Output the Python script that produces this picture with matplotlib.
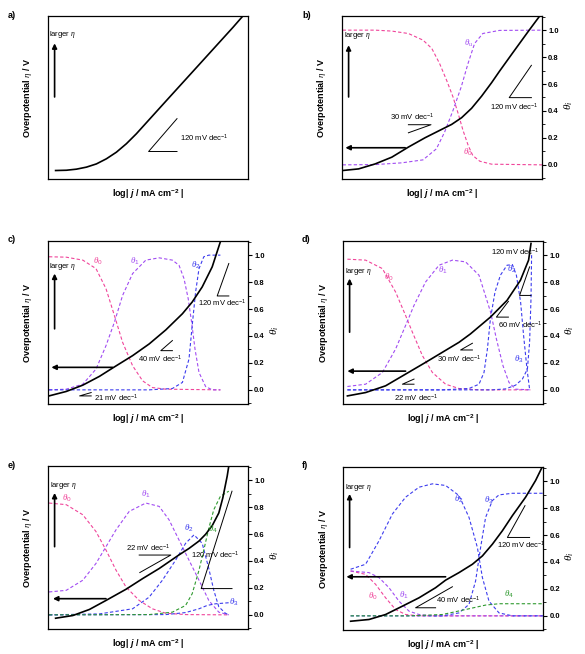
import matplotlib.pyplot as plt
from matplotlib.ticker import MultipleLocator, FormatStrFormatter

plt.rcParams['font.family'] = ['Liberation Sans', 'DejaVu Sans']
plt.rcParams['mathtext.fontset'] = 'custom'
plt.rcParams['mathtext.rm'] = 'Liberation Sans'
plt.rcParams['mathtext.it'] = 'Liberation Serif:italic'
plt.rcParams['mathtext.bf'] = 'Liberation Sans:bold'
if 'mathtext.bfit' in plt.rcParams:
    plt.rcParams['mathtext.bfit'] = 'Liberation Sans:bold:italic'

PINK = '#f0459a'
PURPLE = '#a14cf2'
BLUE = '#3c3cee'
GREEN = '#2f9a2f'

# panel a: Tafel curve only
a_x = [0.38, 0.92, 1.42, 1.92, 2.42, 2.92, 3.42, 3.92, 4.42, 5.92, 7.58, 9.25, 9.75]
a_eta = [-0.042, -0.040, -0.032, -0.017, 0.007, 0.045, 0.094, 0.157, 0.231, 0.477, 0.748, 1.021, 1.106]

# panel b
b_x = [0.03, 0.83, 1.66, 2.49, 3.32, 4.15, 4.98, 5.48, 5.98, 6.48, 6.98, 7.48, 7.87, 8.47, 9.30, 9.88]
b_eta = [-0.042, -0.030, 0.007, 0.057, 0.132, 0.201, 0.263, 0.300, 0.350, 0.420, 0.510, 0.610, 0.694, 0.818, 0.988, 1.104]
b_th0_x = [0.03, 1.66, 2.49, 3.32, 4.05, 4.49, 4.88, 5.23, 5.55, 5.81, 6.05, 6.31, 6.54, 6.89, 7.48, 10.0]
b_th0 = [1.0, 1.0, 0.993, 0.975, 0.926, 0.864, 0.752, 0.628, 0.504, 0.380, 0.256, 0.144, 0.069, 0.027, 0.005, 0.0]
b_thu_x = [0.03, 1.66, 2.99, 4.05, 4.72, 5.13, 5.55, 5.96, 6.30, 6.63, 7.04, 7.87, 10.0]
b_thu = [0.0, 0.002, 0.015, 0.037, 0.119, 0.243, 0.404, 0.578, 0.752, 0.901, 0.975, 0.998, 1.0]

# panel c
c_x = [0.05, 0.91, 1.74, 2.57, 3.23, 4.23, 5.06, 5.89, 6.72, 7.21, 7.71, 8.21, 8.62]
c_eta = [-0.045, -0.012, 0.035, 0.100, 0.162, 0.254, 0.341, 0.445, 0.565, 0.652, 0.764, 0.913, 1.10]
c_th0_x = [0.05, 0.91, 1.74, 2.40, 2.90, 3.32, 3.73, 4.23, 4.73, 5.22, 5.89, 8.62]
c_th0 = [0.988, 0.985, 0.963, 0.900, 0.751, 0.552, 0.353, 0.179, 0.067, 0.017, 0.005, 0.0]
c_th1_x = [0.05, 0.91, 1.74, 2.40, 2.90, 3.32, 3.73, 4.23, 4.89, 5.56, 6.22, 6.55, 6.80, 7.01, 7.18, 7.35, 7.55, 7.88, 8.21, 8.62]
c_th1 = [0.0, 0.005, 0.042, 0.154, 0.328, 0.502, 0.701, 0.863, 0.963, 0.980, 0.963, 0.925, 0.826, 0.677, 0.502, 0.303, 0.129, 0.025, 0.0, 0.0]
c_th2_x = [0.05, 5.06, 6.22, 6.72, 7.05, 7.21, 7.38, 7.55, 7.79, 8.04, 8.62]
c_th2 = [0.0, 0.0, 0.010, 0.055, 0.229, 0.478, 0.726, 0.900, 0.988, 1.0, 1.0]

# panel d
d_x = [0.22, 1.13, 2.13, 3.13, 4.13, 4.97, 5.80, 6.37, 7.37, 8.20, 8.87, 9.28, 9.40]
d_eta = [-0.045, -0.020, 0.030, 0.117, 0.204, 0.279, 0.353, 0.415, 0.540, 0.664, 0.813, 0.963, 1.087]
d_th0_x = [0.22, 1.13, 1.97, 2.63, 3.13, 3.47, 3.97, 4.47, 5.13, 5.80, 6.80, 9.38]
d_th0 = [0.970, 0.963, 0.900, 0.726, 0.552, 0.428, 0.254, 0.129, 0.042, 0.010, 0.0, 0.0]
d_th1_x = [0.22, 1.13, 1.97, 2.63, 3.13, 3.55, 4.13, 4.80, 5.47, 6.13, 6.80, 7.38, 7.67, 8.00, 8.30, 8.63, 9.38]
d_th1 = [0.025, 0.042, 0.129, 0.303, 0.478, 0.627, 0.801, 0.925, 0.963, 0.950, 0.851, 0.577, 0.378, 0.179, 0.055, 0.005, 0.0]
d_th2_x = [0.22, 4.97, 6.30, 6.80, 7.05, 7.22, 7.37, 7.60, 7.87, 8.20, 8.47, 8.67, 8.88, 9.03, 9.20, 9.33, 9.38]
d_th2 = [0.0, 0.0, 0.010, 0.042, 0.129, 0.303, 0.527, 0.726, 0.851, 0.925, 0.930, 0.851, 0.652, 0.403, 0.154, 0.005, 0.0]
d_th3_x = [0.22, 7.47, 8.13, 8.63, 8.97, 9.22, 9.33, 9.40, 9.43]
d_th3 = [0.0, 0.0, 0.007, 0.035, 0.080, 0.154, 0.353, 0.677, 1.0]

# panel e
e_x = [0.38, 1.24, 2.07, 2.90, 3.90, 4.73, 5.56, 6.55, 7.05, 7.55, 7.88, 8.21, 8.54, 8.74, 8.96, 9.04]
e_eta = [-0.025, -0.005, 0.040, 0.107, 0.190, 0.269, 0.344, 0.445, 0.493, 0.548, 0.598, 0.662, 0.756, 0.868, 1.030, 1.105]
e_th0_x = [0.05, 0.91, 1.74, 2.40, 2.90, 3.40, 3.90, 4.56, 5.22, 5.89, 6.88, 9.04]
e_th0 = [0.830, 0.818, 0.743, 0.618, 0.481, 0.332, 0.207, 0.107, 0.045, 0.012, 0.002, 0.0]
e_th1_x = [0.05, 0.91, 1.74, 2.40, 2.90, 3.40, 4.06, 4.89, 5.56, 6.05, 6.55, 7.05, 7.55, 8.04, 8.54, 9.04]
e_th1 = [0.170, 0.182, 0.257, 0.382, 0.506, 0.631, 0.768, 0.830, 0.805, 0.706, 0.556, 0.406, 0.257, 0.107, 0.020, 0.0]
e_th2_x = [0.05, 2.57, 4.23, 5.06, 5.72, 6.38, 6.88, 7.30, 7.71, 8.04, 8.29, 8.54, 8.87, 9.04]
e_th2 = [0.0, 0.007, 0.045, 0.132, 0.257, 0.406, 0.531, 0.594, 0.531, 0.344, 0.182, 0.060, 0.012, 0.0]
e_th3_x = [0.05, 5.89, 6.88, 7.55, 7.96, 8.37, 9.04]
e_th3 = [0.0, 0.002, 0.017, 0.045, 0.070, 0.082, 0.090]
e_th4_x = [0.05, 5.06, 6.22, 6.88, 7.21, 7.55, 7.79, 8.04, 8.29, 8.62, 9.04]
e_th4 = [0.0, 0.002, 0.020, 0.070, 0.157, 0.332, 0.481, 0.643, 0.781, 0.880, 0.918]

# panel f
f_x = [0.38, 1.30, 2.13, 2.97, 3.80, 4.63, 5.13, 5.80, 6.47, 6.97, 7.47, 7.97, 8.47, 9.13, 9.63, 10.0]
f_eta = [-0.040, -0.027, 0.010, 0.072, 0.134, 0.209, 0.265, 0.321, 0.383, 0.445, 0.532, 0.632, 0.744, 0.881, 1.005, 1.117]
f_th0_x = [0.38, 1.13, 1.63, 2.13, 2.63, 3.13, 3.80, 10.0]
f_th0 = [0.333, 0.308, 0.234, 0.134, 0.047, 0.010, 0.0, 0.0]
f_th1_x = [0.38, 1.30, 1.80, 2.30, 2.80, 3.30, 3.80, 4.47, 10.0]
f_th1 = [0.333, 0.321, 0.284, 0.209, 0.109, 0.035, 0.010, 0.0, 0.0]
f_th2_x = [0.38, 1.13, 1.80, 2.47, 3.13, 3.80, 4.47, 5.13, 5.80, 6.30, 6.72, 6.97, 7.30, 7.80, 8.47, 10.0]
f_th2 = [0.346, 0.383, 0.557, 0.756, 0.881, 0.955, 0.980, 0.968, 0.893, 0.731, 0.507, 0.284, 0.109, 0.022, 0.0, 0.0]
f_th3_x = [0.38, 4.97, 5.80, 6.30, 6.63, 6.88, 7.13, 7.47, 7.80, 8.47, 10.0]
f_th3 = [0.0, 0.0, 0.022, 0.085, 0.259, 0.507, 0.731, 0.856, 0.898, 0.910, 0.910]
f_th4_x = [0.38, 3.30, 4.97, 6.13, 7.13, 7.80, 10.0]
f_th4 = [0.0, 0.0, 0.010, 0.047, 0.080, 0.090, 0.090]

# slope triangles: (x path, y path, label)
a_tri = [([6.45, 5.03, 6.45], [0.099, 0.099, 0.343], '120')]
b_tri = [([3.32, 4.45, 3.32], [0.298, 0.298, 0.238], '30'),
         ([9.47, 8.36, 9.47], [0.499, 0.499, 0.739], '120')]
c_tri = [([2.16, 1.58, 2.16], [-0.045, -0.045, -0.020], '21'),
         ([6.22, 5.64, 6.22], [0.291, 0.291, 0.366], '40'),
         ([9.04, 8.46, 9.04], [0.697, 0.697, 0.938], '120')]
d_tri = [([3.55, 2.97, 3.55], [0.042, 0.042, 0.080], '22'),
         ([6.47, 5.88, 6.47], [0.296, 0.296, 0.346], '30'),
         ([8.27, 7.67, 8.27], [0.540, 0.540, 0.657], '60'),
         ([9.40, 8.83, 9.33], [0.701, 0.701, 0.913], '120')]
e_tri = [([4.56, 6.14, 4.59], [0.444, 0.444, 0.314], '22'),
         ([9.20, 7.66, 9.20], [0.195, 0.195, 0.918], '120')]
f_tri = [([4.63, 3.63, 5.47], [0.060, 0.060, 0.216], '40'),
         ([9.33, 8.22, 9.10], [0.582, 0.582, 0.818], '120')]

fig = plt.figure(figsize=(5.85, 6.54), dpi=100)
W, H = 585.0, 654.0


def make_ax(left, top):
    return fig.add_axes([left / W, 1 - (top + 163) / H, 200 / W, 163 / H])


def panel(ax, letter, lx, ly, xs, eta, thetas, labels, tris, notes, up, left_arrow=None, right=True):
    ax.set_xlim(0, 10)
    ax.set_ylim(-0.105, 1.105)
    ax.set_xticks([])
    for sp in ax.spines.values():
        sp.set_linewidth(0.9)
    for tx, ty, col in thetas:
        ax.plot(tx, ty, color=col, lw=0.8, dashes=(3, 2))
    ax.plot(xs, eta, color='k', lw=1.2, solid_joinstyle='round')
    for txt, x, y, col in labels:
        ax.text(x, y, txt, color=col, fontsize=6.5, ha='center', va='center')
    for px, py, _ in tris:
        ax.plot(px, py, color='k', lw=0.7)
    for (_, _, val), (nx, ny) in zip(tris, notes):
        ax.text(nx, ny, f'{val} mV dec' + r'$^{-1}$', fontsize=5.5, ha='left', va='center')
    ux, uy0, uy1, tx, ty = up
    ax.annotate('', xy=(ux, uy1), xytext=(ux, uy0),
                arrowprops=dict(arrowstyle='-|>', color='k', lw=1.2, mutation_scale=7, shrinkA=0, shrinkB=0))
    ax.text(tx, ty, r'larger $\eta$', fontsize=5.5, ha='left', va='center')
    if left_arrow is not None:
        ay, ax0, ax1 = left_arrow
        ax.annotate('', xy=(ax1, ay), xytext=(ax0, ay),
                    arrowprops=dict(arrowstyle='-|>', color='k', lw=1.2, mutation_scale=7, shrinkA=0, shrinkB=0))
    if right:
        ax.yaxis.tick_right()
        ax.yaxis.set_major_locator(MultipleLocator(0.2))
        ax.yaxis.set_minor_locator(MultipleLocator(0.1))
        ax.yaxis.set_major_formatter(FormatStrFormatter('%.1f'))
        ax.tick_params(axis='y', which='major', direction='out', length=3, width=0.8, labelsize=5.5, pad=1.5)
        ax.tick_params(axis='y', which='minor', direction='out', length=1.8, width=0.6)
        for t in ax.get_yticklabels():
            t.set_fontweight('bold')
        ax.text(1.135, 0.45, r'$\theta_i$', transform=ax.transAxes, rotation=90,
                fontsize=8, ha='center', va='center')
    else:
        ax.set_yticks([])
    ax.text(-0.1, 0.5, r'Overpotential $\eta$ / V', transform=ax.transAxes, rotation=90,
            fontsize=6.5, fontweight='bold', ha='center', va='center')
    ax.text(0.5, -0.088, r'log| $\mathbfit{j}$ / mA cm$^{\mathbf{-2}}$ |', transform=ax.transAxes,
            fontsize=6.5, fontweight='bold', ha='center', va='center')
    fig.text(lx / W, 1 - ly / H, letter, fontsize=6.5, fontweight='bold', ha='left', va='center')


ax = make_ax(48, 16)
panel(ax, 'a)', 8, 15, a_x, a_eta, [], [], a_tri, [(6.58, 0.194)],
      (0.33, 0.504, 0.902, 0.05, 0.964), right=False)

ax = make_ax(342, 16)
panel(ax, 'b)', 302, 15, b_x, b_eta,
      [(b_th0_x, b_th0, PINK), (b_thu_x, b_thu, PURPLE)],
      [(r'$\theta_u$', 6.31, 0.90, PURPLE), (r'$\theta_0$', 6.31, 0.094, PINK)],
      b_tri, [(2.41, 0.355), (7.39, 0.424)],
      (0.33, 0.504, 0.888, 0.08, 0.963), (0.127, 3.16, 0.17))

ax = make_ax(48, 241)
panel(ax, 'c)', 8, 240, c_x, c_eta,
      [(c_th0_x, c_th0, PINK), (c_th1_x, c_th1, PURPLE), (c_th2_x, c_th2, BLUE)],
      [(r'$\theta_0$', 2.49, 0.95, PINK), (r'$\theta_1$', 4.36, 0.95, PURPLE), (r'$\theta_2$', 7.41, 0.925, BLUE)],
      c_tri, [(2.32, -0.062), (4.48, 0.229), (7.51, 0.639)],
      (0.33, 0.453, 0.863, 0.05, 0.913), (0.167, 3.23, 0.17))

ax = make_ax(343, 241)
panel(ax, 'd)', 302, 240, d_x, d_eta,
      [(d_th0_x, d_th0, PINK), (d_th1_x, d_th1, PURPLE), (d_th2_x, d_th2, BLUE), (d_th3_x, d_th3, BLUE)],
      [(r'$\theta_0$', 2.30, 0.838, PINK), (r'$\theta_1$', 4.97, 0.888, PURPLE),
       (r'$\theta_2$', 8.43, 0.896, BLUE), (r'$\theta_3$', 8.80, 0.224, BLUE)],
      d_tri, [(2.55, -0.062), (4.72, 0.229), (7.77, 0.478), (7.42, 1.02)],
      (0.33, 0.428, 0.826, 0.10, 0.876), (0.139, 3.13, 0.22))

ax = make_ax(48, 466)
panel(ax, 'e)', 8, 465, e_x, e_eta,
      [(e_th0_x, e_th0, PINK), (e_th1_x, e_th1, PURPLE), (e_th2_x, e_th2, BLUE),
       (e_th3_x, e_th3, BLUE), (e_th4_x, e_th4, GREEN)],
      [(r'$\theta_0$', 0.95, 0.865, PINK), (r'$\theta_1$', 4.89, 0.893, PURPLE), (r'$\theta_2$', 7.05, 0.643, BLUE),
       (r'$\theta_3$', 9.30, 0.09, BLUE), (r'$\theta_4$', 8.24, 0.631, GREEN)],
      e_tri, [(3.90, 0.494), (7.13, 0.444)],
      (0.33, 0.506, 0.905, 0.08, 0.958), (0.120, 2.90, 0.25))

ax = make_ax(343, 467)
panel(ax, 'f)', 302, 465, f_x, f_eta,
      [(f_th0_x, f_th0, PINK), (f_th1_x, f_th1, PURPLE), (f_th2_x, f_th2, BLUE),
       (f_th3_x, f_th3, BLUE), (f_th4_x, f_th4, GREEN)],
      [(r'$\theta_0$', 1.47, 0.147, PINK), (r'$\theta_1$', 3.05, 0.154, PURPLE), (r'$\theta_2$', 5.80, 0.868, BLUE),
       (r'$\theta_3$', 7.30, 0.856, BLUE), (r'$\theta_4$', 8.30, 0.159, GREEN)],
      f_tri, [(4.63, 0.114), (7.72, 0.520)],
      (0.33, 0.507, 0.905, 0.10, 0.955), (0.29, 5.13, 0.17))

fig.savefig('out.png', dpi=100)
